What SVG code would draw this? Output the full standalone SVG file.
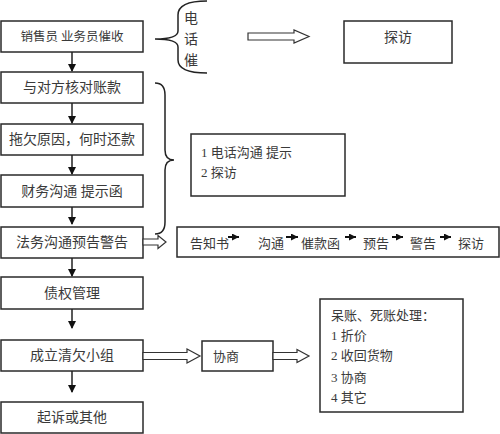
<svg xmlns="http://www.w3.org/2000/svg" width="500" height="434" viewBox="0 0 500 434">
<defs>
<style>
text{font-family:"Liberation Serif","Noto Sans CJK SC",serif;fill:#3a3a3a;font-size:13px}
.box{fill:#fff;stroke:#2a2a2a;stroke-width:1.5}
.c{text-anchor:middle;font-size:14px}
.ln{stroke:#222;stroke-width:1.5;fill:none}
.sl{stroke:#111;stroke-width:2;fill:none}
.hol{fill:#fff;stroke:#333;stroke-width:1.2}
</style>
<marker id="ah" markerWidth="8" markerHeight="8" refX="7" refY="4" orient="auto" markerUnits="userSpaceOnUse">
<path d="M0,0 L8,4 L0,8 Z" fill="#111"/>
</marker>
<marker id="sah" markerWidth="7" markerHeight="7" refX="7" refY="3.5" orient="auto" markerUnits="userSpaceOnUse">
<path d="M0,0 L7,3.5 L0,7 Z" fill="#111"/>
</marker>
</defs>
<rect width="500" height="434" fill="#fff"/>

<g id="n1"><rect class="box" x="1" y="21" width="142" height="31"/><text class="c" x="72" y="41" style="font-size:12.5px">销售员 业务员催收</text></g>
<g id="n2"><rect class="box" x="1" y="72" width="142" height="31"/><text class="c" x="72" y="92">与对方核对账款</text></g>
<g id="n3"><rect class="box" x="1" y="124" width="142" height="31"/><text class="c" x="72" y="144">拖欠原因，何时还款</text></g>
<g id="n4"><rect class="box" x="1" y="175" width="142" height="32"/><text class="c" x="72" y="196">财务沟通 提示函</text></g>
<g id="n5"><rect class="box" x="1" y="227" width="142" height="31"/><text class="c" x="72" y="247">法务沟通预告警告</text></g>
<g id="n6"><rect class="box" x="1" y="277" width="142" height="32"/><text class="c" x="72" y="298">债权管理</text></g>
<g id="n7"><rect class="box" x="1" y="340" width="142" height="31"/><text class="c" x="72" y="360">成立清欠小组</text></g>
<g id="n8"><rect class="box" x="1" y="402" width="142" height="31"/><text class="c" x="72" y="422">起诉或其他</text></g>

<g id="n_phone"><text class="c" x="191" y="23">电</text><text class="c" x="191" y="44">话</text><text class="c" x="191" y="65">催</text></g>
<g id="n_visit"><rect class="box" x="344" y="21" width="108" height="42"/><text class="c" x="398" y="42">探访</text></g>
<g id="n_tips"><rect class="box" x="191" y="134" width="154" height="62"/><text x="201" y="157">1 电话沟通 提示</text><text x="201" y="177">2 探访</text></g>
<g id="n_chain"><rect class="box" x="177" y="227" width="322" height="30"/>
<text x="190" y="248">告知书</text><text x="258" y="248">沟通</text><text x="301" y="248">催款函</text><text x="363" y="248">预告</text><text x="410" y="248">警告</text><text x="458" y="248">探访</text></g>
<g id="n_xs"><rect class="box" x="202" y="341" width="71" height="30"/><text x="213" y="361">协商</text></g>
<g id="n_bad"><rect class="box" x="320" y="299" width="143" height="113"/>
<text x="331" y="320">呆账、死账处理：</text><text x="331" y="340">1 折价</text><text x="331" y="360">2 收回货物</text><text x="331" y="382">3 协商</text><text x="331" y="402">4 其它</text></g>

<g id="connectors">
<line class="ln" x1="72" y1="52" x2="72" y2="71" marker-end="url(#ah)"/>
<line class="ln" x1="72" y1="103" x2="72" y2="123" marker-end="url(#ah)"/>
<line class="ln" x1="72" y1="155" x2="72" y2="174" marker-end="url(#ah)"/>
<line class="ln" x1="72" y1="207" x2="72" y2="224" marker-end="url(#ah)"/>
<line class="ln" x1="72" y1="258" x2="72" y2="276" marker-end="url(#ah)"/>
<line class="ln" x1="72" y1="309" x2="72" y2="328" marker-end="url(#ah)"/>
<line class="ln" x1="72" y1="371" x2="72" y2="392" marker-end="url(#ah)"/>

<path class="ln" d="M207,1 Q178,1 178,15 L178,31 Q178,39 155,39 Q178,39 178,47 L178,60 Q178,73 207,73"/>
<path class="ln" d="M155,83 Q165,83 165,95 L165,150 Q165,160 174,160 Q165,160 165,170 L165,222 Q165,234 155,234"/>

<polygon class="hol" points="248,33 294,33 294,30 309,36.5 294,43 294,40 248,40"/>
<polygon class="hol" points="143,239 158,239 158,235.5 166,242 158,248.5 158,245 143,245"/>
<polygon class="hol" points="143,352.5 187,352.5 187,349 200,356 187,363 187,359.5 143,359.5"/>
<polygon class="hol" points="273,352.5 297,352.5 297,349.5 309,356 297,362.5 297,359.5 273,359.5"/>

<line class="sl" x1="228" y1="237" x2="239" y2="237" marker-end="url(#sah)"/>
<line class="sl" x1="286" y1="237" x2="298" y2="237" marker-end="url(#sah)"/>
<line class="sl" x1="345" y1="237" x2="356" y2="237" marker-end="url(#sah)"/>
<line class="sl" x1="392" y1="237" x2="403" y2="237" marker-end="url(#sah)"/>
<line class="sl" x1="440" y1="237" x2="451" y2="237" marker-end="url(#sah)"/>
</g>
</svg>
